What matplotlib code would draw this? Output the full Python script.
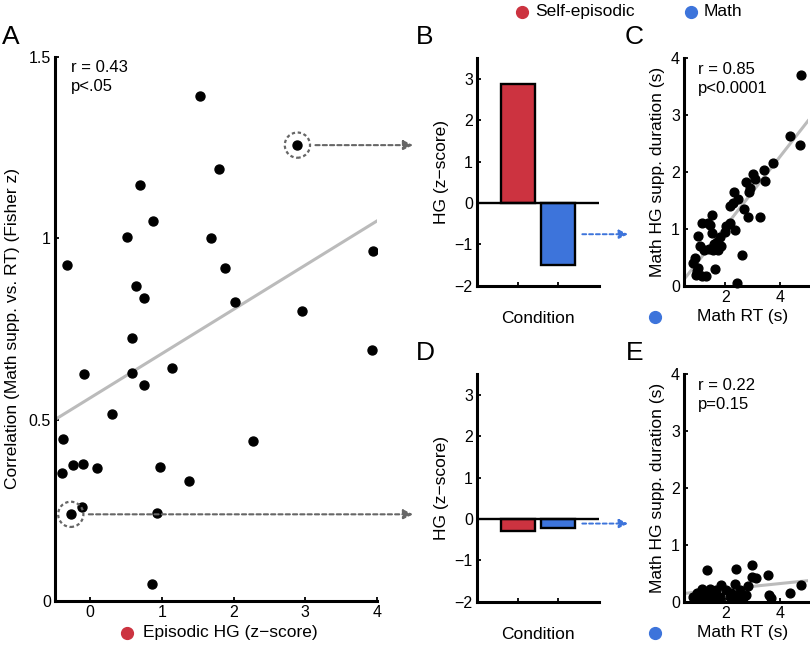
import numpy as np
import matplotlib
matplotlib.use('Agg')
import matplotlib.pyplot as plt
from matplotlib.lines import Line2D

plt.rcParams['font.family'] = ['Liberation Sans', 'DejaVu Sans']
plt.rcParams['axes.unicode_minus'] = True

RED = '#CC3340'
BLUE = '#3D74DB'
GREY = '#666666'

# panel A: episodic HG vs correlation (Fisher z)
a_x = [1.53, 2.89, 1.80, 0.69, 0.87, 0.51, 1.68, -0.32, 3.95, 1.88, 0.64, 0.75,
       2.02, 2.95, 0.59, 3.93, -0.08, 0.59, 1.14, 0.75, 0.31, -0.38, 2.27, -0.39,
       -0.24, -0.10, 0.09, 0.98, 1.38, -0.11, -0.27, 0.93, 0.86]
a_y = [1.393, 1.257, 1.192, 1.146, 1.049, 1.004, 1.001, 0.926, 0.966, 0.917, 0.868, 0.835,
       0.824, 0.800, 0.724, 0.692, 0.625, 0.630, 0.643, 0.596, 0.515, 0.446, 0.441, 0.354,
       0.376, 0.378, 0.368, 0.369, 0.330, 0.260, 0.239, 0.244, 0.046]
a_fit = (0.122, 0.56)       # slope, intercept
a_high = 1                  # index of highlighted subjects
a_low = 30

# panels B / D: mean HG per condition
conditions = ['Self-episodic', 'Math']
hg_high = [2.88, -1.51]
hg_low = [-0.29, -0.22]

# panel C: high-correlation subject
c_rt = [4.75, 4.35, 4.70, 3.74, 3.42, 3.45, 3.01, 3.08, 2.76, 2.88, 2.86, 2.33, 2.47, 2.28,
        2.16, 2.69, 2.81, 3.27, 1.51, 1.38, 1.17, 1.44, 2.16, 2.04, 2.34, 1.98, 1.02, 1.51,
        1.82, 1.70, 1.58, 1.08, 1.23, 1.41, 1.56, 1.74, 1.84, 2.61, 0.90, 0.84, 1.02, 0.96,
        1.14, 1.29, 1.63, 2.44, 0.93]
c_dur = [3.71, 2.64, 2.48, 2.15, 2.03, 1.84, 1.96, 1.87, 1.83, 1.71, 1.64, 1.64, 1.52, 1.46,
         1.41, 1.35, 1.20, 1.21, 1.24, 1.11, 1.10, 1.07, 1.11, 1.05, 0.98, 0.95, 0.87, 0.93,
         0.86, 0.77, 0.73, 0.70, 0.63, 0.64, 0.62, 0.63, 0.70, 0.54, 0.48, 0.40, 0.32, 0.25,
         0.17, 0.17, 0.30, 0.05, 0.19]
c_fit = (0.62, -0.20)

# panel E: low-correlation subject
e_rt = [1.34, 2.38, 2.98, 3.54, 4.76, 4.35, 3.60, 2.95, 3.12, 2.34, 2.52, 2.82, 1.86, 2.04,
        1.66, 1.44, 1.14, 0.96, 0.84, 1.08, 1.32, 1.56, 1.80, 2.16, 2.40, 2.64, 1.26, 1.50,
        2.76, 2.22, 3.66, 1.74]
e_dur = [0.56, 0.57, 0.64, 0.47, 0.29, 0.16, 0.12, 0.44, 0.41, 0.32, 0.20, 0.28, 0.29, 0.20,
         0.20, 0.23, 0.23, 0.15, 0.08, 0.06, 0.09, 0.08, 0.09, 0.08, 0.09, 0.06, 0.15, 0.15,
         0.12, 0.15, 0.06, 0.06]
e_fit = (0.05, 0.12)

W, H = 810, 645
fig = plt.figure(figsize=(8.1, 6.45), dpi=100)


def px(x0, y0, x1, y1):
    # pixel box (top-left origin) -> figure rect
    return [x0 / W, 1 - y1 / H, (x1 - x0) / W, (y1 - y0) / H]


def style(ax):
    for s in ['top', 'right']:
        ax.spines[s].set_visible(False)
    for s in ['left', 'bottom']:
        ax.spines[s].set_linewidth(2.2)
    ax.tick_params(direction='in', length=3, width=1.3, labelsize=11.5, pad=3)


def dot_label(xp, yp, text, color, tx):
    fig.add_artist(Line2D([xp / W], [1 - yp / H], marker='o', ms=8.5,
                          color=color, transform=fig.transFigure))
    fig.text(tx / W, 1 - yp / H, text, fontsize=12.5, va='center', ha='left')


# ---- A
axA = fig.add_axes(px(55, 57, 377, 601))
style(axA)
axA.scatter(a_x, a_y, s=42, color='black', zorder=3)
xx = np.array([-0.49, 4.0])
axA.plot(xx, a_fit[0] * xx + a_fit[1], color='#BBBBBB', lw=2.2, zorder=2)
axA.set_xlim(-0.49, 4.0)
axA.set_ylim(0, 1.5)
axA.set_xticks([0, 1, 2, 3, 4])
axA.set_yticks([0, 0.5, 1, 1.5])
axA.set_yticklabels(['0', '0.5', '1', '1.5'])
axA.set_ylabel('Correlation (Math supp. vs. RT) (Fisher z)', fontsize=12.5, labelpad=6)
axA.text(0.05, 0.995, 'r = 0.43\np<.05', transform=axA.transAxes, fontsize=12,
         va='top', linespacing=1.35)
for i in [a_high, a_low]:
    axA.scatter([a_x[i]], [a_y[i]], s=330, facecolor='none', edgecolor=GREY,
                linestyle=(0, (1.5, 1.2)), linewidth=1.6, zorder=3)
    axA.annotate('', xy=(413 / W, a_y[i]), xycoords=('figure fraction', 'data'),
                 xytext=(a_x[i], a_y[i]), textcoords='data',
                 arrowprops=dict(arrowstyle='-|>', color=GREY, lw=1.5,
                                 linestyle=(0, (2, 1.5)), shrinkA=13, shrinkB=0,
                                 mutation_scale=14),
                 annotation_clip=False)
dot_label(127, 633, 'Episodic HG (z\u2212score)', RED, 143)

# ---- B and D
for box, vals, letter in [((477, 58.3, 599, 285.7), hg_high, 'B'),
                          ((477, 374.3, 599, 601.7), hg_low, 'D')]:
    ax = fig.add_axes(px(*box))
    style(ax)
    ax.bar([1, 2], vals, width=0.83, color=[RED, BLUE], edgecolor='black',
           linewidth=1.7, zorder=3)
    ax.axhline(0, color='black', lw=1.7, zorder=4)
    ax.set_xlim(0, 3)
    ax.set_ylim(-2, 3.5)
    ax.set_yticks([-2, -1, 0, 1, 2, 3])
    ax.set_xticks([1, 2])
    ax.set_xticklabels([])
    ax.set_ylabel('HG (z\u2212score)', fontsize=12.5, labelpad=4)
    ax.set_xlabel('Condition', fontsize=12.5, labelpad=15)
    ax.annotate('', xy=(628 / W, vals[1] / 2), xycoords=('figure fraction', 'data'),
                xytext=(2.59, vals[1] / 2), textcoords='data',
                arrowprops=dict(arrowstyle='-|>', color=BLUE, lw=1.4,
                                linestyle=(0, (2, 1.5)), shrinkA=0, shrinkB=0,
                                mutation_scale=13),
                annotation_clip=False)

# ---- C and E
for box, rt, dur, fit, txt in [((684, 58.3, 808, 285.7), c_rt, c_dur, c_fit, 'r = 0.85\np<0.0001'),
                               ((684, 374.3, 808, 601.7), e_rt, e_dur, e_fit, 'r = 0.22\np=0.15')]:
    ax = fig.add_axes(px(*box))
    style(ax)
    ax.scatter(rt, dur, s=40, color='black', zorder=3, clip_on=False)
    xx = np.array([0.5, 5.0])
    ax.plot(xx, fit[0] * xx + fit[1], color='#BBBBBB', lw=2.2, zorder=2)
    ax.set_xlim(0.5, 5.0)
    ax.set_ylim(0, 4)
    ax.set_xticks([2, 4])
    ax.set_yticks([0, 1, 2, 3, 4])
    ax.set_ylabel('Math HG supp. duration (s)', fontsize=12.5, labelpad=4)
    ax.text(0.11, 0.985, txt, transform=ax.transAxes, fontsize=12,
            va='top', linespacing=1.35)

dot_label(655, 317, 'Math RT (s)', BLUE, 697)
dot_label(655, 633, 'Math RT (s)', BLUE, 697)

# legend on top
dot_label(521.7, 11.7, conditions[0], RED, 535)
dot_label(690.7, 11.7, conditions[1], BLUE, 704)

# panel letters
for letter, xp, yp in [('A', 11, 37), ('B', 425, 37), ('C', 634, 37),
                       ('D', 425, 353), ('E', 635, 353)]:
    fig.text(xp / W, 1 - yp / H, letter, fontsize=19, ha='center', va='center')

fig.savefig('out.png', dpi=100)
